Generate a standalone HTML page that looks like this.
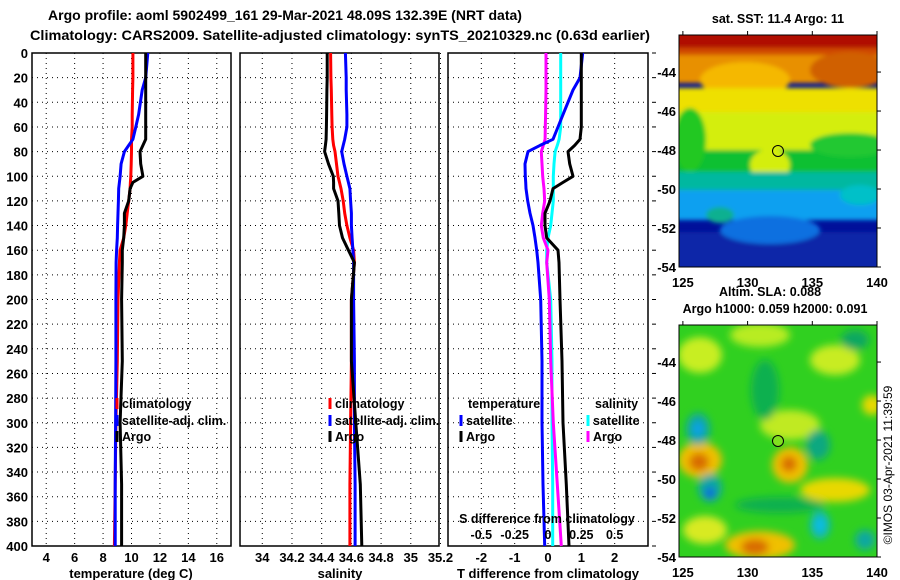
<!DOCTYPE html>
<html><head><meta charset="utf-8">
<style>
html,body{margin:0;padding:0;background:#fff;}
svg{display:block;font-family:"Liberation Sans",Arial,sans-serif;font-weight:bold;}
</style></head>
<body>
<svg id="fig" width="900" height="580" viewBox="0 0 900 580" xmlns="http://www.w3.org/2000/svg">
<defs>
<filter id="blur4" x="-20%" y="-20%" width="140%" height="140%"><feGaussianBlur stdDeviation="4"/></filter>
<filter id="blur2"><feGaussianBlur stdDeviation="2"/></filter>
<clipPath id="clipTop"><rect x="679" y="35" width="198" height="232"/></clipPath>
<clipPath id="clipBot"><rect x="679" y="325" width="198" height="232"/></clipPath>
</defs>
<text x="285" y="20" font-size="14" text-anchor="middle">Argo profile: aoml 5902499_161 29-Mar-2021 48.09S 132.39E (NRT data)</text>
<text x="30" y="40" font-size="14" textLength="620" lengthAdjust="spacingAndGlyphs">Climatology: CARS2009. Satellite-adjusted climatology: synTS_20210329.nc (0.63d earlier)</text>

<!-- top map: SST -->
<g clip-path="url(#clipTop)">
  <rect x="679" y="35" width="198" height="232" fill="#00109a"/>
  <g filter="url(#blur2)">
  <rect x="670" y="25" width="220" height="28" fill="#b01000"/>
  <rect x="670" y="48" width="220" height="10" fill="#d04a00"/>
  <rect x="670" y="55" width="220" height="28" fill="#e89000"/>
  <ellipse cx="745" cy="80" rx="45" ry="18" fill="#f5b800"/>
  <ellipse cx="850" cy="70" rx="40" ry="18" fill="#d06000"/>
  <rect x="670" y="88" width="220" height="28" fill="#eee000"/>
  <rect x="670" y="112" width="220" height="40" fill="#d4ee10"/>
  <rect x="670" y="150" width="220" height="26" fill="#10c030"/>
  <ellipse cx="690" cy="140" rx="16" ry="32" fill="#20c820"/>
  <ellipse cx="770" cy="165" rx="20" ry="16" fill="#d4ee10"/>
  <ellipse cx="850" cy="145" rx="40" ry="12" fill="#20c830"/>
  <rect x="670" y="172" width="220" height="20" fill="#00b8a0"/>
  <rect x="670" y="190" width="220" height="30" fill="#10a0f0"/>
  <ellipse cx="720" cy="215" rx="14" ry="8" fill="#10b090"/>
  <ellipse cx="860" cy="195" rx="20" ry="10" fill="#00c0c8"/>
  <rect x="670" y="232" width="220" height="40" fill="#0828a8"/>
  <ellipse cx="770" cy="230" rx="50" ry="14" fill="#1070e0"/>
  </g>
</g>
<rect x="679" y="35" width="198" height="232" fill="none" stroke="#000" stroke-width="1"/>
<circle cx="778" cy="151" r="5.5" fill="none" stroke="#000" stroke-width="1"/>

<!-- bottom map: SLA -->
<g clip-path="url(#clipBot)">
  <rect x="679" y="325" width="198" height="232" fill="#30d020"/>
  <g filter="url(#blur4)">
  <ellipse cx="700" cy="355" rx="22" ry="18" fill="#c8ee20"/>
  <ellipse cx="760" cy="335" rx="30" ry="12" fill="#b8ec20"/>
  <ellipse cx="835" cy="360" rx="25" ry="15" fill="#c8ec20"/>
  <ellipse cx="790" cy="425" rx="30" ry="15" fill="#c0ea20"/>
  <ellipse cx="765" cy="390" rx="14" ry="30" fill="#10b050"/>
  <ellipse cx="855" cy="340" rx="14" ry="10" fill="#10a860"/>
  <ellipse cx="700" cy="460" rx="22" ry="18" fill="#f0c000"/>
  <ellipse cx="699" cy="462" rx="10" ry="9" fill="#d86a00"/>
  <ellipse cx="790" cy="465" rx="18" ry="18" fill="#f0c000"/>
  <ellipse cx="789" cy="464" rx="8" ry="8" fill="#d86a00"/>
  <ellipse cx="835" cy="490" rx="35" ry="12" fill="#e8d800"/>
  <ellipse cx="760" cy="545" rx="35" ry="14" fill="#f0c000"/>
  <ellipse cx="755" cy="547" rx="14" ry="8" fill="#d86a00"/>
  <ellipse cx="705" cy="530" rx="22" ry="14" fill="#d8ea20"/>
  <ellipse cx="698" cy="429" rx="12" ry="16" fill="#10a8a0"/>
  <ellipse cx="698" cy="429" rx="5" ry="7" fill="#10a0f0"/>
  <ellipse cx="710" cy="488" rx="12" ry="14" fill="#10a8a0"/>
  <ellipse cx="710" cy="493" rx="5" ry="6" fill="#1060e0"/>
  <ellipse cx="818" cy="445" rx="12" ry="15" fill="#10a880"/>
  <ellipse cx="820" cy="525" rx="10" ry="14" fill="#10b8c0"/>
  <ellipse cx="820" cy="525" rx="4" ry="6" fill="#10c0f0"/>
  <ellipse cx="865" cy="540" rx="10" ry="10" fill="#10a8a0"/>
  <ellipse cx="780" cy="505" rx="45" ry="8" fill="#10b050"/>
  <ellipse cx="872" cy="405" rx="10" ry="10" fill="#e8d800"/>
  </g>
</g>
<rect x="679" y="325" width="198" height="232" fill="none" stroke="#000" stroke-width="1"/>
<circle cx="778" cy="441" r="5.5" fill="#80e020" stroke="#000" stroke-width="1"/>

<text x="778" y="23" font-size="12.5" text-anchor="middle">sat. SST: 11.4 Argo: 11</text>
<text x="770" y="296" font-size="12.5" text-anchor="middle">Altim. SLA: 0.088</text>
<text x="775" y="313" font-size="12.5" text-anchor="middle">Argo h1000: 0.059 h2000: 0.091</text>
<text transform="translate(892,465) rotate(-90)" font-size="12" font-weight="normal" text-anchor="middle">©IMOS 03-Apr-2021 11:39:59</text>

<g id="plots"></g>
</svg>
<script>
// ---- data ----
const depths = [0,20,30,50,60,70,75,80,90,100,105,110,120,130,140,150,160,170,200,250,300,350,400];
const tempArgo = [11.0,11.0,11.0,11.0,11.0,11.0,10.8,10.6,10.65,10.8,10.1,9.9,9.8,9.5,9.5,9.45,9.35,9.35,9.3,9.35,9.2,9.3,9.3];
const tempClim = [10.1,10.1,10.08,10.05,10.05,10.0,10.0,10.0,9.98,9.95,9.92,9.9,9.8,9.7,9.6,9.45,9.2,9.15,9.05,9.0,8.9,8.85,8.8];
const tempSat = [11.15,11.0,10.75,10.5,10.3,10.1,9.8,9.5,9.27,9.2,9.15,9.1,9.08,9.05,9.02,9.0,8.95,8.92,8.9,8.9,8.88,8.85,8.85];
const salArgo = [34.437,34.437,34.435,34.433,34.432,34.43,34.425,34.42,34.446,34.478,34.48,34.48,34.51,34.515,34.52,34.54,34.58,34.62,34.6,34.6,34.63,34.66,34.67];
const salClim = [34.46,34.462,34.465,34.468,34.47,34.475,34.48,34.49,34.5,34.51,34.52,34.53,34.545,34.555,34.57,34.59,34.615,34.62,34.6,34.6,34.595,34.59,34.59];
const salSat = [34.56,34.565,34.565,34.57,34.57,34.555,34.545,34.535,34.55,34.57,34.58,34.59,34.595,34.6,34.6,34.605,34.61,34.615,34.615,34.62,34.62,34.625,34.625];
const dTArgo = [1.0,1.0,1.0,1.0,1.0,0.96,0.8,0.6,0.65,0.75,0.45,0.15,0.06,-0.09,-0.09,-0.04,0.3,0.33,0.36,0.42,0.45,0.55,0.63];
const dTSat = [1.04,0.96,0.75,0.45,0.3,0.15,-0.24,-0.6,-0.69,-0.68,-0.67,-0.66,-0.61,-0.54,-0.45,-0.39,-0.34,-0.3,-0.22,-0.18,-0.18,-0.15,-0.1];
const dSSat = [0.095,0.095,0.095,0.095,0.095,0.083,0.07,0.053,0.045,0.04,0.04,0.04,0.04,0.03,0.02,0,-0.01,-0.01,0.02,0.03,0.03,0.035,0.035];
const dSArgo = [-0.015,-0.015,-0.015,-0.018,-0.02,-0.022,-0.035,-0.05,-0.045,-0.04,-0.035,-0.03,-0.025,-0.04,-0.05,-0.035,0,-0.01,0.01,0.02,0.04,0.07,0.1];
const depthTicks = [0,20,40,60,80,100,120,140,160,180,200,220,240,260,280,300,320,340,360,380,400];
const tempTicks = [4,6,8,10,12,14,16];
const salTicks = [34,34.2,34.4,34.6,34.8,35,35.2];
const salTickLabels = ["34","34.2","34.4","34.6","34.8","35","35.2"];
const dTTicks = [-2,-1,0,1,2];
const dSTicks = [-0.5,-0.25,0,0.25,0.5];
const dSTickLabels = ["-0.5","-0.25","0","0.25","0.5"];
const latTicks = [-44,-46,-48,-50,-52,-54];
const lonTicks = [125,130,135,140];

const NS = "http://www.w3.org/2000/svg";
const root = document.getElementById('plots');
function mk(tag, attrs, parent, txt){
  const e = document.createElementNS(NS, tag);
  for (const k in attrs) e.setAttribute(k, attrs[k]);
  if (txt !== undefined) e.textContent = txt;
  (parent || root).appendChild(e);
  return e;
}
const Y0 = 53, Y1 = 546;
function yD(d){ return Y0 + d/400*(Y1-Y0); }
function lin(d0,d1,r0,r1){ return v => r0 + (v-d0)/(d1-d0)*(r1-r0); }
const xT = lin(3,17,32,231);
const xS = lin(33.85,35.19,240,439);
const xDT = lin(-3,3,448,648);
const xDS = lin(-0.75,0.75,448,648);

function panel(name, x0, x1, xs, ticks, labels){
  const g = mk('g', {});
  
  
  depthTicks.forEach(d => {
    const l = mk('line', {x1:x0, x2:x1, y1:yD(d), y2:yD(d), stroke:'#000', 'stroke-width':1, 'stroke-dasharray':'1 4'}, g);
    
    
  });
  ticks.forEach((t,i) => {
    const x = xs(t);
    const l = mk('line', {x1:x, x2:x, y1:Y0, y2:Y1, stroke:'#000', 'stroke-width':1, 'stroke-dasharray':'1 4'}, g);
    
    
    if (labels){
      const tx = mk('text', {x:x, y:562, 'font-size':13, 'text-anchor':'middle'}, g, labels[i]);
      
      
    }
  });
  const f = mk('rect', {x:x0, y:Y0, width:x1-x0, height:Y1-Y0, fill:'none', stroke:'#000', 'stroke-width':1.5}, g);
  
  
  return g;
}
function series(g, name, vals, xs, color){
  const pts = vals.map((v,i) => xs(v).toFixed(1)+','+yD(depths[i]).toFixed(1)).join(' ');
  const p = mk('polyline', {points:pts, fill:'none', stroke:color, 'stroke-width':3, 'stroke-linejoin':'round'}, g);
  
  
}
function legendItem(g, name, x, y, color, label){
  if (color){
    const m = mk('line', {x1:x, x2:x, y1:y-10, y2:y+1, stroke:color, 'stroke-width':3}, g);
    
    
  }
  const t = mk('text', {x:x+5, y:y, 'font-size':12.5}, g, label);
  
  
}

// panel 1: temperature
const g1 = panel('temperature-panel', 32, 231, xT, tempTicks, tempTicks.map(String));
depthTicks.forEach(d => {
  const t = mk('text', {x:28, y:yD(d)+5, 'font-size':13, 'text-anchor':'end'}, g1, String(d));
  
  
});
series(g1, 'temp-climatology-line', tempClim, xT, '#f00');
series(g1, 'temp-satellite-line', tempSat, xT, '#00f');
series(g1, 'temp-argo-line', tempArgo, xT, '#000');
legendItem(g1, 'legend-climatology', 117, 408, '#f00', 'climatology');
legendItem(g1, 'legend-satellite-adj-clim', 117, 425, '#00f', 'satellite-adj. clim.');
legendItem(g1, 'legend-argo', 117, 441, '#000', 'Argo');
const at1 = mk('text', {x:131, y:578, 'font-size':13, 'text-anchor':'middle'}, g1, 'temperature (deg C)');



// panel 2: salinity
const g2 = panel('salinity-panel', 240, 439, xS, salTicks, salTickLabels);
series(g2, 'sal-climatology-line', salClim, xS, '#f00');
series(g2, 'sal-satellite-line', salSat, xS, '#00f');
series(g2, 'sal-argo-line', salArgo, xS, '#000');
legendItem(g2, 'legend-climatology', 330, 408, '#f00', 'climatology');
legendItem(g2, 'legend-satellite-adj-clim', 330, 425, '#00f', 'satellite-adj. clim.');
legendItem(g2, 'legend-argo', 330, 441, '#000', 'Argo');
const at2 = mk('text', {x:340, y:578, 'font-size':13, 'text-anchor':'middle'}, g2, 'salinity');



// panel 3: differences
const g3 = panel('difference-panel', 448, 648, xDT, dTTicks, dTTicks.map(String));
depthTicks.forEach(d => {
  const l = mk('line', {x1:652, x2:656, y1:yD(d), y2:yD(d), stroke:'#000', 'stroke-width':1}, g3);
  
  
});
series(g3, 'dS-satellite-line', dSSat, xDS, '#0ff');
series(g3, 'dS-argo-line', dSArgo, xDS, '#f0f');
series(g3, 'dT-satellite-line', dTSat, xDT, '#00f');
series(g3, 'dT-argo-line', dTArgo, xDT, '#000');
legendItem(g3, 'legend-temperature-header', 463, 408, null, 'temperature');
legendItem(g3, 'legend-temp-satellite', 461, 425, '#00f', 'satellite');
legendItem(g3, 'legend-temp-argo', 461, 441, '#000', 'Argo');
legendItem(g3, 'legend-salinity-header', 590, 408, null, 'salinity');
legendItem(g3, 'legend-sal-satellite', 588, 425, '#0ff', 'satellite');
legendItem(g3, 'legend-sal-argo', 588, 441, '#f0f', 'Argo');
const sdt = mk('text', {x:547, y:523, 'font-size':12.5, 'text-anchor':'middle'}, g3, 'S difference from climatology');


dSTicks.forEach((t,i) => {
  const tx = mk('text', {x:xDS(t), y:539, 'font-size':12.5, 'text-anchor':'middle'}, g3, dSTickLabels[i]);
  
  
});
const at3 = mk('text', {x:548, y:578, 'font-size':13, 'text-anchor':'middle'}, g3, 'T difference from climatology');



// map axes
function mapAxes(name, yTop, yBot, lonLabelY){
  const g = mk('g', {});
  
  
  const yL = lin(-42.1, -54, yTop, yBot);
  const xL = lin(124.7, 140, 679, 877);
  latTicks.forEach(la => {
    const y = yL(la);
    const t = mk('text', {x:676, y:y+5, 'font-size':13, 'text-anchor':'end'}, g, String(la));
    
    
    const l = mk('line', {x1:877, x2:881, y1:y, y2:y, stroke:'#000', 'stroke-width':1}, g);
    
    
  });
  lonTicks.forEach(lo => {
    const x = xL(lo);
    const t = mk('text', {x:x, y:lonLabelY, 'font-size':13, 'text-anchor':'middle'}, g, String(lo));
    
    
    const l = mk('line', {x1:x, x2:x, y1:yTop-4, y2:yTop, stroke:'#000', 'stroke-width':1}, g);
    
    
  });
}
mapAxes('sst-map-axes', 35, 267, 287);
mapAxes('sla-map-axes', 325, 557, 577);
</script>
</body></html>
